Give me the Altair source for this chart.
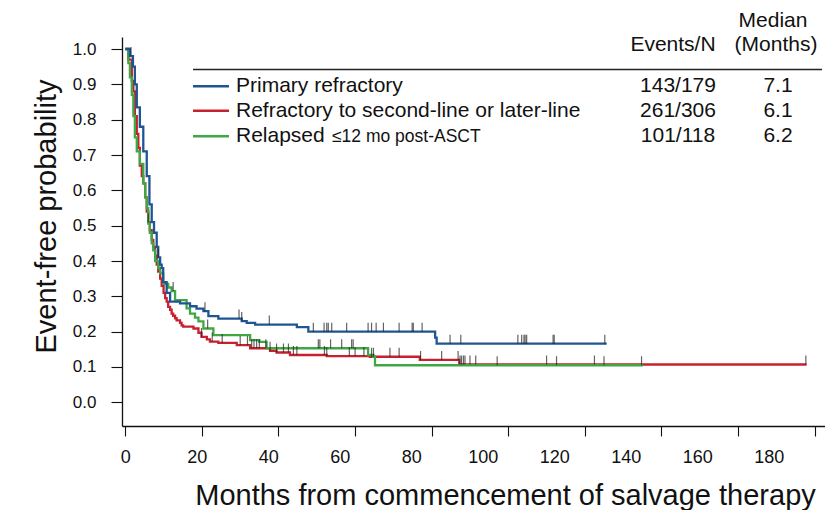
import altair as alt
import pandas as pd

# ---------------- data ----------------
SERIES = ["Primary refractory", "Refractory to second-line or later-line", "Relapsed"]
SERIES_SUFFIX = ["", "", "≤12 mo post-ASCT"]
EVENTS_N = ["143/179", "261/306", "101/118"]
MEDIANS = ["7.1", "6.1", "6.2"]
COLORS = ["#1f5592", "#c8202f", "#3fa845"]

# Primary refractory (blue)
PR_T = [0, 1.2, 2.0, 2.5, 3.0, 3.8, 4.7, 5.6, 6.3, 6.9, 7.5, 8.2, 8.6, 9.1, 9.5, 9.9,
        10.8, 11.7, 14.3, 16.9, 18.6, 20.4, 21.7, 24.3, 30.4, 31.7, 33.9, 44.8, 47.8,
        80.9, 81.3, 125.7]
PR_S = [1.0, 0.98, 0.95, 0.90, 0.835, 0.78, 0.71, 0.64, 0.56, 0.51, 0.48, 0.44, 0.41,
        0.39, 0.38, 0.34, 0.31, 0.285, 0.28, 0.272, 0.265, 0.258, 0.244, 0.237, 0.23,
        0.225, 0.22, 0.213, 0.20, 0.183, 0.166, 0.166]
PR_CENS = [1.5, 8.6, 20.8, 29.7, 30.4, 37.6, 49.1, 51.9, 52.6, 53.0, 53.9, 57.8, 63.4,
           64.3, 65.5, 67.4, 71.5, 74.9, 75.2, 77.5, 84.8, 87.6, 102.5, 103.5, 104.1,
           104.4, 104.8, 111.7, 112.0, 125.2]

# Refractory to second-line or later-line (red)
RF_T = [0, 0.8, 1.7, 2.1, 2.5, 3.0, 3.4, 3.8, 4.3, 4.7, 5.2, 5.6, 6.0, 6.4, 6.9, 7.3,
        7.8, 8.2, 8.6, 9.1, 9.5, 10.0, 10.4, 10.8, 11.2, 11.7, 12.1, 12.5, 13.0, 13.4,
        14.3, 14.7, 15.1, 17.8, 19.1, 19.9, 21.3, 22.1, 24.3, 29.1, 32.6, 37.8, 39.5,
        43.0, 52.6, 63.9, 76.9, 87.2, 177.9]
RF_S = [1.0, 0.97, 0.91, 0.88, 0.81, 0.76, 0.72, 0.67, 0.64, 0.62, 0.58, 0.54, 0.51,
        0.487, 0.46, 0.44, 0.415, 0.39, 0.37, 0.35, 0.33, 0.31, 0.295, 0.285, 0.27,
        0.262, 0.251, 0.245, 0.238, 0.232, 0.225, 0.218, 0.214, 0.209, 0.197, 0.185,
        0.178, 0.172, 0.168, 0.162, 0.153, 0.146, 0.141, 0.134, 0.131, 0.129, 0.12,
        0.107, 0.107]
RF_CENS = [6.0, 19.9, 22.7, 25.3, 30.0, 31.9, 33.0, 33.6, 34.3, 35.0, 36.7, 37.8, 39.5,
           41.3, 42.6, 43.9, 44.8, 52.0, 52.6, 58.5, 60.0, 62.3, 64.3, 64.8, 69.1, 71.5,
           77.1, 82.6, 86.9, 87.4, 87.8, 88.3, 88.7, 90.0, 91.5, 110.0, 122.5, 177.7]

# Relapsed <=12 mo post-ASCT (green)
RL_T = [0, 0.8, 1.2, 1.7, 2.1, 2.5, 3.0, 3.8, 4.7, 5.2, 5.6, 6.0, 6.4, 6.9, 7.3, 7.8,
        8.6, 9.1, 9.9, 11.2, 12.1, 13.0, 16.0, 16.9, 18.2, 19.1, 20.4, 23.0, 32.6, 35.0,
        36.9, 63.4, 64.8, 65.2, 135.2]
RL_S = [1.0, 0.96, 0.92, 0.87, 0.81, 0.75, 0.71, 0.675, 0.62, 0.58, 0.55, 0.506, 0.48,
        0.45, 0.43, 0.40, 0.38, 0.365, 0.335, 0.325, 0.315, 0.289, 0.266, 0.251, 0.24,
        0.229, 0.209, 0.19, 0.176, 0.171, 0.153, 0.134, 0.129, 0.105, 0.105]
RL_CENS = [12.5, 21.5, 50.4, 50.8, 53.6, 56.5, 59.1, 59.5, 97.1, 112.6, 125.0, 134.8]

X_TICKS = [0, 20, 40, 60, 80, 100, 120, 140, 160, 180]
Y_TICKS = [0.0, 0.1, 0.2, 0.3, 0.4, 0.5, 0.6, 0.7, 0.8, 0.9, 1.0]

FONT = "Liberation Sans"


def curve_df(t, s, name):
    return pd.DataFrame({"t": t, "S": s, "group": name})


def censor_df(times, t, s, name):
    vals = []
    for c in times:
        v = s[0]
        for ti, si in zip(t, s):
            if ti <= c:
                v = si
        vals.append(v)
    return pd.DataFrame({"t": times, "S": vals, "group": name})


x_enc = alt.X(
    "t:Q",
    scale=alt.Scale(domain=[-0.86, 182.7], nice=False, zero=False),
    axis=alt.Axis(
        values=X_TICKS,
        title="Months from commencement of salvage therapy",
        titleFontSize=29,
        titleX=383,
        titleY=78,
        titleBaseline="alphabetic",
        labelFontSize=18,
        labelPadding=12,
        tickSize=10,
        labelOffset={"expr": "-0.255 * datum.value"},
    ),
)
y_enc = alt.Y(
    "S:Q",
    scale=alt.Scale(domain=[-0.067, 1.034], nice=False, zero=False),
    axis=alt.Axis(
        values=Y_TICKS,
        format=".1f",
        title="Event-free probability",
        titleFontSize=29,
        titleX=-61,
        titleY=179,
        labelFontSize=17,
        labelPadding=15,
        tickSize=11,
    ),
)

curves = [(PR_T, PR_S, PR_CENS), (RF_T, RF_S, RF_CENS), (RL_T, RL_S, RL_CENS)]

layers = []
# draw order: red, green, blue
for i in [1, 2, 0]:
    t, s, _ = curves[i]
    layers.append(
        alt.Chart(curve_df(t, s, SERIES[i]))
        .mark_line(interpolate="step-after", strokeWidth=2.3, color=COLORS[i])
        .encode(x=x_enc, y=y_enc)
    )
for i in [1, 2, 0]:
    t, s, c = curves[i]
    layers.append(
        alt.Chart(censor_df(c, t, s, SERIES[i]))
        .mark_tick(orient="vertical", size=9, thickness=1.2, color="#222222", yOffset=-4.5)
        .encode(x=x_enc, y=y_enc)
    )

# ---------------- legend table (annotation) ----------------
one = pd.DataFrame({"a": [0]})
ROW_Y = [49.3, 73.8, 99.3]


def txt(s, x, y, size=21, align="left"):
    return (
        alt.Chart(one)
        .mark_text(align=align, baseline="middle", fontSize=size, font=FONT, color="#111111")
        .encode(x=alt.value(x), y=alt.value(y), text=alt.value(s))
    )


layers.append(
    alt.Chart(one).mark_rule(color="#222222", strokeWidth=1.3)
    .encode(x=alt.value(71), x2=alt.value(700), y=alt.value(32.5))
)
layers.append(txt("Events/N", 551, 8.3, align="center"))
layers.append(txt("Median", 651, -15.7, align="center"))
layers.append(txt("(Months)", 654, 8.3, align="center"))
for i in range(3):
    layers.append(
        alt.Chart(one).mark_rule(color=COLORS[i], strokeWidth=2.5)
        .encode(x=alt.value(71), x2=alt.value(107), y=alt.value(ROW_Y[i]))
    )
    layers.append(txt(SERIES[i], 114, ROW_Y[i]))
    if SERIES_SUFFIX[i]:
        layers.append(txt(SERIES_SUFFIX[i], 210, ROW_Y[i] + 1, size=17.5))
    layers.append(txt(EVENTS_N[i], 556, ROW_Y[i], align="center"))
    layers.append(txt(MEDIANS[i], 656, ROW_Y[i], align="center"))

chart = (
    alt.layer(*layers)
    .properties(
        width=703,
        height=389,
        autosize=alt.AutoSizeParams(type="none"),
        padding={"left": 114, "top": 29, "right": 0, "bottom": 84},
        background="white",
    )
    .configure_axis(
        labelFont=FONT,
        titleFont=FONT,
        labelColor="#111111",
        titleColor="#111111",
        titleFontWeight="normal",
        domainColor="#111111",
        tickColor="#111111",
        domainWidth=1.3,
        tickWidth=1.1,
        grid=False,
    )
    .configure_view(stroke=None)
)

chart.save("out.html", embed_options={"renderer": "svg", "actions": False})
